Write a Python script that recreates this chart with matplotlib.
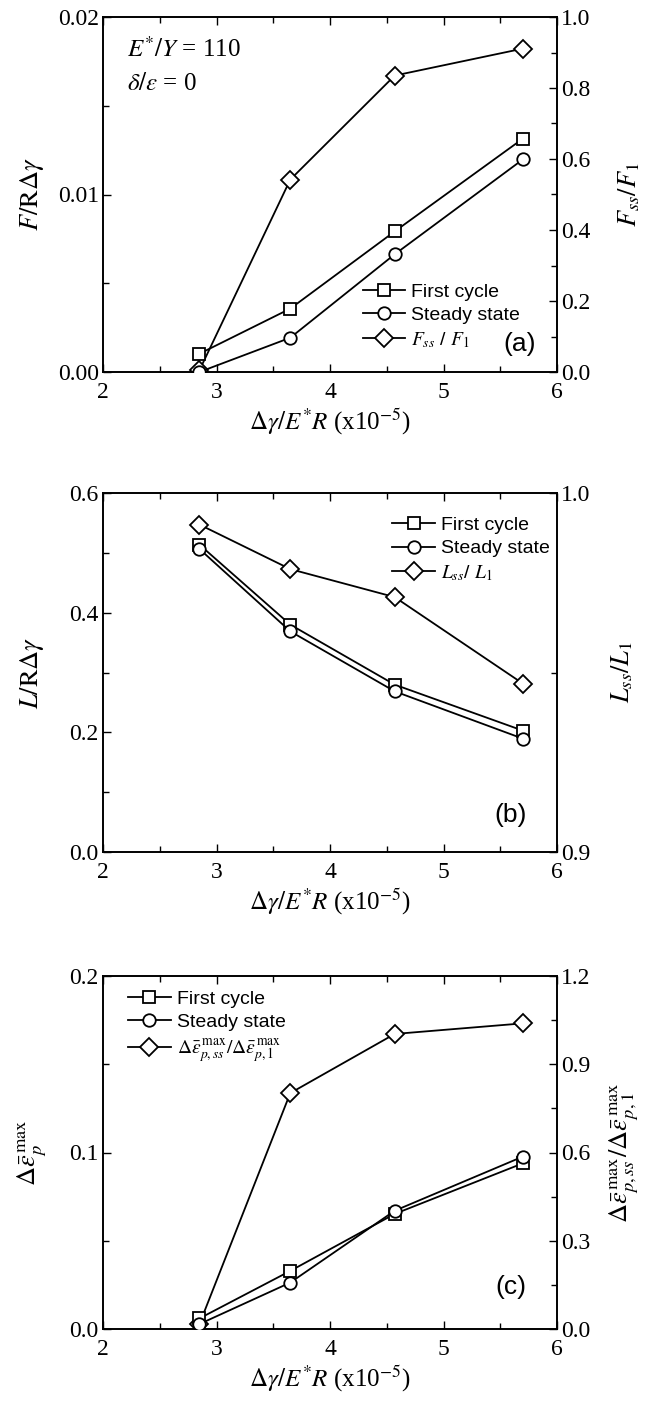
import matplotlib
matplotlib.use("Agg")
import matplotlib.pyplot as plt
from matplotlib.ticker import MultipleLocator, FormatStrFormatter

# ---- data ----
x_vals = [2.85, 3.65, 4.57, 5.70]

a_first = [0.00103, 0.00357, 0.00792, 0.01315]
a_steady = [0.0000, 0.00193, 0.00663, 0.01198]
a_ratio = [0.005, 0.542, 0.835, 0.911]

b_first = [0.5136, 0.380, 0.2797, 0.2028]
b_steady = [0.5064, 0.3688, 0.2685, 0.1894]
b_ratio = [0.9912, 0.9788, 0.9710, 0.9469]

c_first = [0.006, 0.0329, 0.0652, 0.0939]
c_steady = [0.0028, 0.0263, 0.0670, 0.0977]
c_ratio = [0.017, 0.802, 1.003, 1.039]

legend_first = "First cycle"
legend_steady = "Steady state"
legend_ratio_a = r"$F_{ss}$ / $F_1$"
legend_ratio_b = r"$L_{ss}$/ $L_1$"
legend_ratio_c = r"$\Delta\bar{\varepsilon}^{\,\max}_{p,ss}/\Delta\bar{\varepsilon}^{\,\max}_{p,1}$"

xlabel = r"$\Delta\gamma/E^{*}R$ (x10$^{-5}$)"

plt.rcParams['mathtext.fontset'] = 'stix'
plt.rcParams['font.family'] = ['Liberation Serif', 'DejaVu Serif']

W, H = 648, 1401
fig = plt.figure(figsize=(W / 100, H / 100), dpi=100)

def rect(left, top, right, bottom):
    return [left / W, 1 - bottom / H, (right - left) / W, (bottom - top) / H]

panels = [
    dict(rect=rect(103, 17, 557, 372), first=a_first, steady=a_steady, ratio=a_ratio,
         ylim=(0, 0.02), ymaj=0.01, ymin=0.005, yfmt='%.2f',
         rlim=(0, 1.0), rmaj=0.2, rmin=0.1, rfmt='%.1f',
         ylabel=r"$F/\mathrm{R}\Delta\gamma$", rlabel=r"$F_{ss}/F_1$",
         lpos=-0.125, rpos=1.13,
         rlab=legend_ratio_a, leg=(0.572, 0.25, 'upper left'), tag='(a)', tagpos=(0.917, 0.08)),
    dict(rect=rect(103, 493, 557, 852), first=b_first, steady=b_steady, ratio=b_ratio,
         ylim=(0, 0.6), ymaj=0.2, ymin=0.1, yfmt='%.1f',
         rlim=(0.9, 1.0), rmaj=0.1, rmin=0.05, rfmt='%.1f',
         ylabel=r"$L/\mathrm{R}\Delta\gamma$", rlabel=r"$L_{ss}/L_1$",
         lpos=-0.125, rpos=1.115,
         rlab=legend_ratio_b, leg=(0.637, 0.935, 'upper left'), tag='(b)', tagpos=(0.898, 0.103)),
    dict(rect=rect(103, 976, 557, 1329), first=c_first, steady=c_steady, ratio=c_ratio,
         ylim=(0, 0.2), ymaj=0.1, ymin=0.05, yfmt='%.1f',
         rlim=(0, 1.2), rmaj=0.3, rmin=0.15, rfmt='%.1f',
         ylabel=r"$\Delta\bar{\varepsilon}^{\,\max}_{p}$",
         rlabel=r"$\Delta\bar{\varepsilon}^{\,\max}_{p,ss}/\Delta\bar{\varepsilon}^{\,\max}_{p,1}$",
         lpos=-0.12, rpos=1.11,
         rlab=legend_ratio_c, leg=(0.055, 0.96, 'upper left'), tag='(c)', tagpos=(0.898, 0.12)),
]

lw = 1.3
for p in panels:
    ax = fig.add_axes(p['rect'])
    ax2 = ax.twinx()
    h1, = ax.plot(x_vals, p['first'], color='black', lw=lw, marker='s', ms=8,
                  mfc='white', mec='black', mew=lw, label=legend_first, zorder=3)
    h2, = ax.plot(x_vals, p['steady'], color='black', lw=lw, marker='o', ms=9,
                  mfc='white', mec='black', mew=lw, label=legend_steady, zorder=3)
    h3, = ax2.plot(x_vals, p['ratio'], color='black', lw=lw, marker='D', ms=9.5,
                   mfc='white', mec='black', mew=lw, label=p['rlab'], zorder=3)
    ax.set_xlim(2, 6)
    ax.set_ylim(*p['ylim'])
    ax2.set_ylim(*p['rlim'])
    ax.xaxis.set_major_locator(MultipleLocator(1))
    ax.xaxis.set_minor_locator(MultipleLocator(0.5))
    ax.yaxis.set_major_locator(MultipleLocator(p['ymaj']))
    ax.yaxis.set_minor_locator(MultipleLocator(p['ymin']))
    ax.yaxis.set_major_formatter(FormatStrFormatter(p['yfmt']))
    ax2.yaxis.set_major_locator(MultipleLocator(p['rmaj']))
    ax2.yaxis.set_minor_locator(MultipleLocator(p['rmin']))
    ax2.yaxis.set_major_formatter(FormatStrFormatter(p['rfmt']))
    ax.tick_params(axis='x', which='both', direction='in', top=True, labelsize=17, pad=7)
    ax.tick_params(axis='y', which='both', direction='in', right=False, labelsize=17, pad=3)
    ax.tick_params(which='major', length=6, width=1)
    ax.tick_params(which='minor', length=4, width=1)
    ax2.tick_params(axis='y', which='both', direction='in', labelsize=17, pad=3)
    ax2.tick_params(which='major', length=6, width=1)
    ax2.tick_params(which='minor', length=4, width=1)
    for a in (ax, ax2):
        for s in a.spines.values():
            s.set_linewidth(1.2)
    ax.set_xlabel(xlabel, fontsize=18, labelpad=3)
    ax.set_ylabel(p['ylabel'], fontsize=19)
    ax2.set_ylabel(p['rlabel'], fontsize=19)
    ax.yaxis.set_label_coords(p['lpos'], 0.5)
    ax2.yaxis.set_label_coords(p['rpos'], 0.5)
    leg = ax.legend([h1, h2, h3], [legend_first, legend_steady, p['rlab']],
                    loc=p['leg'][2], bbox_to_anchor=(p['leg'][0], p['leg'][1]),
                    frameon=False, borderaxespad=0, borderpad=0,
                    handlelength=2.2, handletextpad=0.3, labelspacing=0.3,
                    prop={'family': 'Liberation Sans', 'size': 14})
    ax.text(p['tagpos'][0], p['tagpos'][1], p['tag'], transform=ax.transAxes,
            ha='center', va='center', fontsize=19, family='Liberation Sans')
    ax.set_zorder(ax2.get_zorder() + 1)
    ax.patch.set_visible(False)

ax_a = fig.axes[0]
ax_a.text(0.053, 0.91, r"$E^{*}/Y$ = 110", transform=ax_a.transAxes,
          ha='left', va='center', fontsize=18)
ax_a.text(0.053, 0.81, r"$\delta/\varepsilon$ = 0", transform=ax_a.transAxes,
          ha='left', va='center', fontsize=18)

fig.savefig("out.png", dpi=100)
